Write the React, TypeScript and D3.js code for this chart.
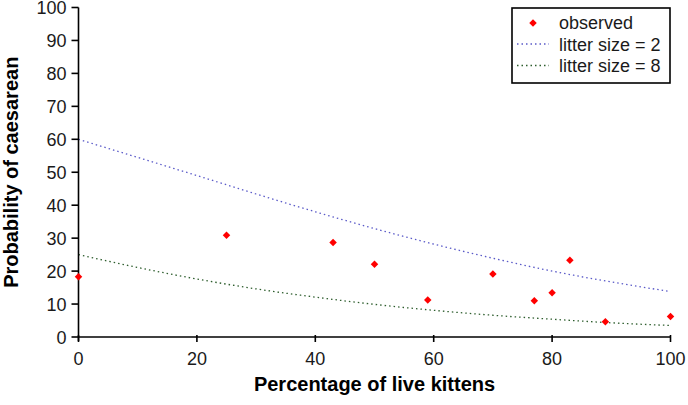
import React from "react";
import * as d3 from "d3";

// observed points (percentage of live kittens, probability %)
const obsX = [0, 25, 43, 50, 59, 70, 77, 80, 83, 89, 100];
const obsY = [18.3, 30.9, 28.7, 22.1, 11.2, 19.1, 11.0, 13.4, 23.3, 4.6, 6.2];

// fitted curves
const curveX = [0, 10, 20, 30, 40, 50, 60, 70, 80, 90, 100];
const litter2 = [60.0, 54.5, 49.0, 43.4, 38.0, 32.9, 28.2, 23.9, 20.0, 16.7, 13.8];
const litter8 = [25.0, 21.1, 17.6, 14.6, 12.1, 9.9, 8.1, 6.6, 5.4, 4.3, 3.5];

const xTicks = [0, 20, 40, 60, 80, 100];
const yTicks = [0, 10, 20, 30, 40, 50, 60, 70, 80, 90, 100];

const W = 688, H = 405;
const font = "'Liberation Sans', Arial, sans-serif";

export default function App() {
  const x = d3.scaleLinear().domain([0, 100]).range([78.5, 670.5]);
  const y = d3.scaleLinear().domain([0, 100]).range([337, 7.5]);

  const line = d3
    .line<number>()
    .x((_, i) => x(curveX[i]))
    .y((d) => y(d))
    .curve(d3.curveMonotoneX);

  // square turned 45 degrees, like the spreadsheet marker
  const marker = d3.symbol().type(d3.symbolSquare).size(28)();

  return (
    <div style={{ position: "absolute", left: 0, top: 0 }}>
      <svg width={W} height={H} style={{ display: "block", background: "#fff" }}>
        {/* curves */}
        <path d={line(litter2) || ""} fill="none" stroke="#5a5ac8" strokeWidth={1.3} strokeDasharray="1.5,3" />
        <path d={line(litter8) || ""} fill="none" stroke="#2e5e2e" strokeWidth={1.3} strokeDasharray="1.5,3" />

        {/* axes */}
        <line x1={x(0)} x2={x(100)} y1={y(0)} y2={y(0)} stroke="#000" strokeWidth={1.6} />
        <line x1={x(0)} x2={x(0)} y1={y(100)} y2={y(0) + 4} stroke="#000" strokeWidth={1.6} />
        {yTicks.map((t) => (
          <g key={"y" + t}>
            <line x1={x(0) - 7} x2={x(0)} y1={y(t)} y2={y(t)} stroke="#000" strokeWidth={1.6} />
            <text x={x(0) - 12} y={y(t) + 6.5} textAnchor="end" fontFamily={font} fontSize={18} fill="#1a1a1a">
              {t}
            </text>
          </g>
        ))}
        {xTicks.map((t) => (
          <g key={"x" + t}>
            <line x1={x(t)} x2={x(t)} y1={y(0) - 2} y2={y(0) + 5} stroke="#000" strokeWidth={1.6} />
            <text x={x(t)} y={y(0) + 28} textAnchor="middle" fontFamily={font} fontSize={18} fill="#1a1a1a">
              {t}
            </text>
          </g>
        ))}

        {/* points */}
        {obsX.map((v, i) => (
          <path
            key={"p" + i}
            d={marker || ""}
            transform={`translate(${x(v)},${y(obsY[i])}) rotate(45)`}
            fill="#ff0000"
          />
        ))}

        {/* axis titles */}
        <text x={(x(0) + x(100)) / 2} y={391} textAnchor="middle" fontFamily={font} fontWeight="bold" fontSize={20}>
          Percentage of live kittens
        </text>
        <text
          transform={`translate(18,${(y(0) + y(100)) / 2}) rotate(-90)`}
          textAnchor="middle"
          fontFamily={font}
          fontWeight="bold"
          fontSize={20}
        >
          Probability of caesarean
        </text>

        {/* legend */}
        <g>
          <rect x={512} y={8} width={158} height={75} fill="#fff" stroke="#000" strokeWidth={1.6} />
          <path d={marker || ""} transform="translate(533,23) rotate(45)" fill="#ff0000" />
          <text x={559} y={29} fontFamily={font} fontSize={18} fill="#1a1a1a">observed</text>
          <line x1={517} x2={549} y1={44} y2={44} stroke="#5a5ac8" strokeWidth={1.3} strokeDasharray="1.5,3" />
          <text x={559} y={50.5} fontFamily={font} fontSize={18} fill="#1a1a1a">litter size = 2</text>
          <line x1={517} x2={549} y1={65.5} y2={65.5} stroke="#2e5e2e" strokeWidth={1.3} strokeDasharray="1.5,3" />
          <text x={559} y={72} fontFamily={font} fontSize={18} fill="#1a1a1a">litter size = 8</text>
        </g>
      </svg>
    </div>
  );
}
